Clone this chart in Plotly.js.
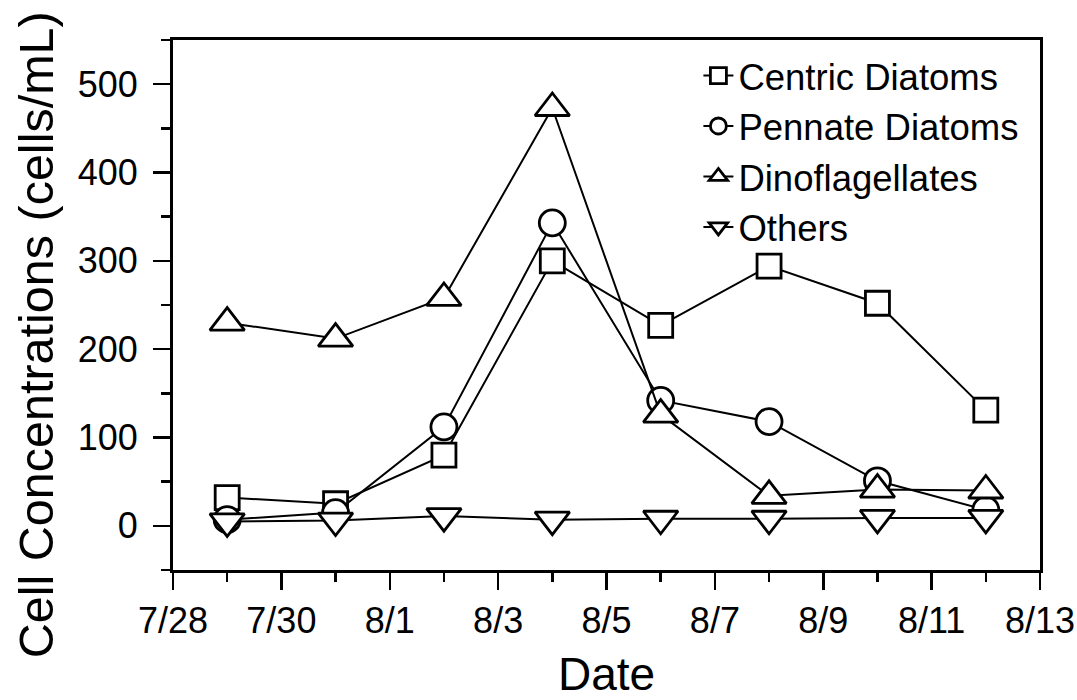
<!DOCTYPE html>
<html>
<head>
<meta charset="utf-8">
<script src="https://cdn.plot.ly/plotly-3.0.1.min.js"></script>
<style>html,body{margin:0;padding:0;background:#fff;}#chart{width:1077px;height:700px;}</style>
</head>
<body>
<div id="chart"></div>
<script>
// Sampling dates (year arbitrary, not shown)
const dates = ['2000-07-29','2000-07-31','2000-08-02','2000-08-04','2000-08-06','2000-08-08','2000-08-10','2000-08-12'];
const centricDiatoms = [32, 25, 80, 300, 227, 294, 252, 131];
const pennateDiatoms = [7, 15, 112, 343, 142, 118, 51, 18];
const dinoflagellates = [230, 212, 258, 473, 126, 34, 41, 40];
const others = [5, 6, 11, 7, 8, 8, 9, 9];

const seriesNames = ['Centric Diatoms', 'Pennate Diatoms', 'Dinoflagellates', 'Others'];
const tickDates = ['2000-07-28','2000-07-30','2000-08-01','2000-08-03','2000-08-05','2000-08-07','2000-08-09','2000-08-11','2000-08-13'];
const tickLabels = ['7/28','7/30','8/1','8/3','8/5','8/7','8/9','8/11','8/13'];
const xTitle = 'Date';
const yTitle = 'Cell Concentrations (cells/mL)';

const FONT = 'Liberation Sans, Arial, Helvetica, sans-serif';

function mk(name, y, symbol, size) {
  return {
    type: 'scatter', mode: 'lines+markers', name: name, x: dates, y: y,
    line: {color: '#000', width: 2},
    marker: {symbol: symbol, size: size, color: '#fff', line: {color: '#000', width: 2.8}},
    cliponaxis: false
  };
}

const data = [
  mk(seriesNames[0], centricDiatoms, 'square', 24),
  mk(seriesNames[1], pennateDiatoms, 'circle', 26),
  mk(seriesNames[2], dinoflagellates, 'triangle-up', 30),
  mk(seriesNames[3], others, 'triangle-down', 30)
];

const layout = {
  width: 1077, height: 700,
  margin: {l: 173, r: 37, t: 40, b: 130},
  paper_bgcolor: '#fff', plot_bgcolor: '#fff',
  font: {family: FONT, color: '#000', size: 36},
  showlegend: true,
  legend: {
    x: 0.606, y: 0.99, xanchor: 'left', yanchor: 'top',
    bgcolor: 'rgba(0,0,0,0)', borderwidth: 0,
    font: {family: FONT, size: 36.5, color: '#000'},
    tracegroupgap: 0
  },
  xaxis: {
    type: 'date',
    range: ['2000-07-28', '2000-08-13'],
    tickmode: 'array', tickvals: tickDates, ticktext: tickLabels,
    ticks: 'outside', ticklen: 17, tickwidth: 2.5, tickcolor: '#000',
    minor: {dtick: 86400000, tick0: '2000-07-28', ticks: 'outside', ticklen: 9, tickwidth: 2.5, tickcolor: '#000', showgrid: false},
    showline: true, linewidth: 3, linecolor: '#000', mirror: true,
    showgrid: false, zeroline: false,
    tickfont: {family: FONT, size: 36, color: '#000'},
    title: {text: xTitle, font: {family: FONT, size: 46, color: '#000'}, standoff: 30}
  },
  yaxis: {
    range: [-50, 550],
    tickmode: 'linear', tick0: 0, dtick: 100,
    ticks: 'outside', ticklen: 17, tickwidth: 2.5, tickcolor: '#000',
    ticklabelstandoff: 8,
    minor: {dtick: 50, tick0: 0, ticks: 'outside', ticklen: 9, tickwidth: 2.5, tickcolor: '#000', showgrid: false},
    showline: true, linewidth: 3, linecolor: '#000', mirror: true,
    showgrid: false, zeroline: false,
    tickfont: {family: FONT, size: 36, color: '#000'}
  },
  annotations: [{
    text: yTitle, xref: 'paper', yref: 'paper',
    x: -0.158, y: 0.443, xanchor: 'center', yanchor: 'middle',
    textangle: -90, showarrow: false,
    font: {family: FONT, size: 48.5, color: '#000'}
  }]
};

Plotly.newPlot('chart', data, layout, {displayModeBar: false, staticPlot: true});
</script>
</body>
</html>
